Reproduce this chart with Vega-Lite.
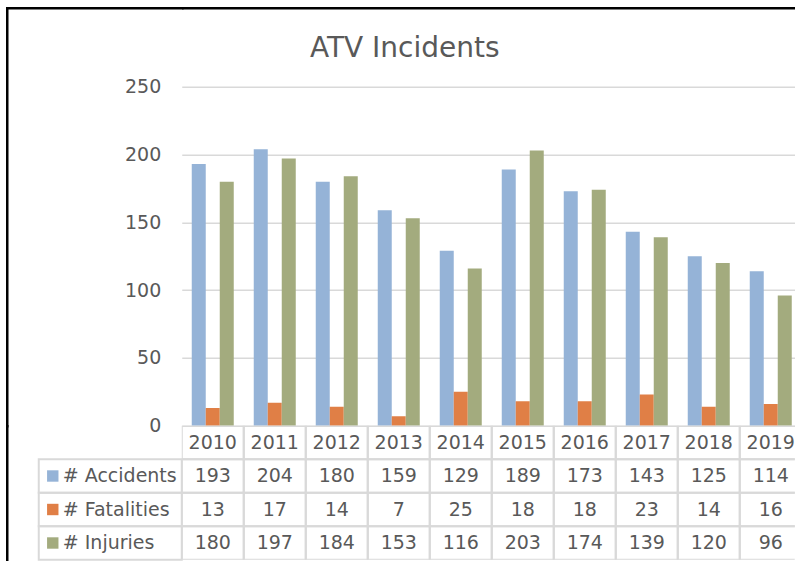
{
  "$schema": "https://vega.github.io/schema/vega-lite/v6.json",
  "padding": {"left": 6.75, "top": 7.75, "right": 0, "bottom": 0},
  "background": "white",
  "title": {
    "text": "ATV Incidents",
    "font": "DejaVu Sans",
    "fontSize": 28,
    "fontWeight": "normal",
    "color": "#595959",
    "anchor": "middle",
    "frame": "bounds",
    "offset": -55,
    "dx": 4
  },
  "datasets": {
    "atv": [
      {"year": "2010", "series": "# Accidents", "value": 193},
      {"year": "2010", "series": "# Fatalities", "value": 13},
      {"year": "2010", "series": "# Injuries", "value": 180},
      {"year": "2011", "series": "# Accidents", "value": 204},
      {"year": "2011", "series": "# Fatalities", "value": 17},
      {"year": "2011", "series": "# Injuries", "value": 197},
      {"year": "2012", "series": "# Accidents", "value": 180},
      {"year": "2012", "series": "# Fatalities", "value": 14},
      {"year": "2012", "series": "# Injuries", "value": 184},
      {"year": "2013", "series": "# Accidents", "value": 159},
      {"year": "2013", "series": "# Fatalities", "value": 7},
      {"year": "2013", "series": "# Injuries", "value": 153},
      {"year": "2014", "series": "# Accidents", "value": 129},
      {"year": "2014", "series": "# Fatalities", "value": 25},
      {"year": "2014", "series": "# Injuries", "value": 116},
      {"year": "2015", "series": "# Accidents", "value": 189},
      {"year": "2015", "series": "# Fatalities", "value": 18},
      {"year": "2015", "series": "# Injuries", "value": 203},
      {"year": "2016", "series": "# Accidents", "value": 173},
      {"year": "2016", "series": "# Fatalities", "value": 18},
      {"year": "2016", "series": "# Injuries", "value": 174},
      {"year": "2017", "series": "# Accidents", "value": 143},
      {"year": "2017", "series": "# Fatalities", "value": 23},
      {"year": "2017", "series": "# Injuries", "value": 139},
      {"year": "2018", "series": "# Accidents", "value": 125},
      {"year": "2018", "series": "# Fatalities", "value": 14},
      {"year": "2018", "series": "# Injuries", "value": 120},
      {"year": "2019", "series": "# Accidents", "value": 114},
      {"year": "2019", "series": "# Fatalities", "value": 16},
      {"year": "2019", "series": "# Injuries", "value": 96}
    ]
  },
  "columns": 2,
  "spacing": 0,
  "bounds": "flush",
  "concat": [
    {
      "width": 175,
      "height": 418,
      "data": {"values": [{}]},
      "mark": {"type": "point", "size": 0, "opacity": 0},
      "encoding": {
        "x": {"datum": 0.5, "type": "quantitative", "scale": {"domain": [0, 1]},
              "axis": {"orient": "top", "labels": false, "ticks": false, "grid": false, "title": null,
                       "domainColor": "black", "domainWidth": 2.5, "domainCap": "square"}},
        "y": {"datum": 0.5, "type": "quantitative", "scale": {"domain": [0, 1]},
              "axis": {"orient": "left", "labels": false, "ticks": false, "grid": false, "title": null,
                       "domainColor": "black", "domainWidth": 2.5, "domainCap": "square"}}
      }
    },
    {
      "width": 613,
      "height": 418,
      "data": {"name": "atv"},
      "resolve": {"scale": {"x": "independent"}, "axis": {"x": "independent"}},
      "layer": [
        {
          "mark": {"type": "bar", "clip": true},
          "encoding": {
            "x": {"field": "year", "type": "nominal",
                  "scale": {"paddingInner": 0, "paddingOuter": 0, "range": [0, 620]},
                  "axis": null},
            "xOffset": {"field": "series", "type": "nominal", "scale": {"paddingInner": 0, "paddingOuter": 0.714}},
            "y": {"field": "value", "type": "quantitative",
                  "scale": {"domain": [0, 308.26], "nice": false},
                  "axis": {"values": [0, 50, 100, 150, 200, 250], "title": null, "domain": false, "ticks": false,
                           "tickSize": 0, "labelPadding": 21, "labelFont": "DejaVu Sans", "labelFontSize": 19,
                           "labelColor": "#595959", "gridColor": "#D9D9D9", "gridWidth": 1.5}},
            "color": {"field": "series", "type": "nominal",
                      "scale": {"domain": ["# Accidents", "# Fatalities", "# Injuries"],
                                "range": ["#95B3D7", "#E07F46", "#A3AB7E"]},
                      "legend": null}
          }
        },
        {
          "data": {"values": [{}]},
          "mark": {"type": "point", "size": 0, "opacity": 0},
          "encoding": {
            "x": {"datum": 0.5, "type": "quantitative", "scale": {"domain": [0, 1]},
                  "axis": {"orient": "top", "labels": false, "ticks": false, "grid": false, "title": null,
                           "domainColor": "black", "domainWidth": 2.5}},
            "y": {"datum": 100, "type": "quantitative"}
          }
        }
      ]
    },
    {
      "width": 175,
      "height": 134,
      "data": {"name": "atv"},
      "transform": [{"filter": "datum.year === '2010'"}],
      "encoding": {
        "y": {"field": "series", "type": "nominal",
              "scale": {"domain": ["Year", "# Accidents", "# Fatalities", "# Injuries"], "paddingInner": 0, "paddingOuter": 0},
              "axis": {"orient": "left", "labels": false, "ticks": false, "grid": false, "title": null,
                       "domainColor": "black", "domainWidth": 2.5, "domainCap": "square"}}
      },
      "layer": [
        {
          "mark": {"type": "rect", "fill": "transparent", "stroke": "#D9D9D9", "strokeWidth": 2},
          "encoding": {
            "x": {"datum": "legend", "type": "nominal",
                  "scale": {"domain": ["legend"], "paddingInner": 0, "paddingOuter": 0.1119, "align": 1},
                  "axis": null}
          }
        },
        {
          "mark": {"type": "point", "shape": "square", "filled": true, "opacity": 1, "size": 130},
          "encoding": {
            "x": {"datum": "legend", "type": "nominal", "bandPosition": 0.098, "axis": null},
            "color": {"field": "series", "type": "nominal", "legend": null}
          }
        },
        {
          "mark": {"type": "text", "align": "left", "baseline": "middle", "font": "DejaVu Sans", "fontSize": 19, "color": "#595959"},
          "encoding": {
            "x": {"datum": "legend", "type": "nominal", "bandPosition": 0.168, "axis": null},
            "text": {"field": "series"}
          }
        }
      ]
    },
    {
      "width": 613,
      "height": 134,
      "data": {"name": "atv"},
      "encoding": {
        "x": {"field": "year", "type": "nominal",
              "scale": {"paddingInner": 0, "paddingOuter": 0, "range": [0, 620]},
              "axis": null}
      },
      "layer": [
        {
          "mark": {"type": "rect", "fill": "transparent", "stroke": "#D9D9D9", "strokeWidth": 2, "clip": true},
          "encoding": {
            "y": {"field": "series", "type": "nominal",
                  "scale": {"domain": ["Year", "# Accidents", "# Fatalities", "# Injuries"], "paddingInner": 0, "paddingOuter": 0},
                  "axis": null}
          }
        },
        {
          "transform": [{"filter": "datum.series === '# Accidents'"}],
          "mark": {"type": "rect", "fill": "transparent", "stroke": "#D9D9D9", "strokeWidth": 2, "clip": true},
          "encoding": {
            "y": {"datum": "Year", "type": "nominal", "axis": null}
          }
        },
        {
          "mark": {"type": "text", "baseline": "middle", "font": "DejaVu Sans", "fontSize": 19, "color": "#595959", "clip": true},
          "encoding": {
            "y": {"field": "series", "type": "nominal", "axis": null},
            "text": {"field": "value", "type": "quantitative"}
          }
        },
        {
          "transform": [{"filter": "datum.series === '# Accidents'"}],
          "mark": {"type": "text", "baseline": "middle", "font": "DejaVu Sans", "fontSize": 19, "color": "#595959", "clip": true},
          "encoding": {
            "y": {"datum": "Year", "type": "nominal", "axis": null},
            "text": {"field": "year", "type": "nominal"}
          }
        }
      ]
    }
  ],
  "config": {
    "view": {"stroke": null},
    "font": "DejaVu Sans"
  }
}
